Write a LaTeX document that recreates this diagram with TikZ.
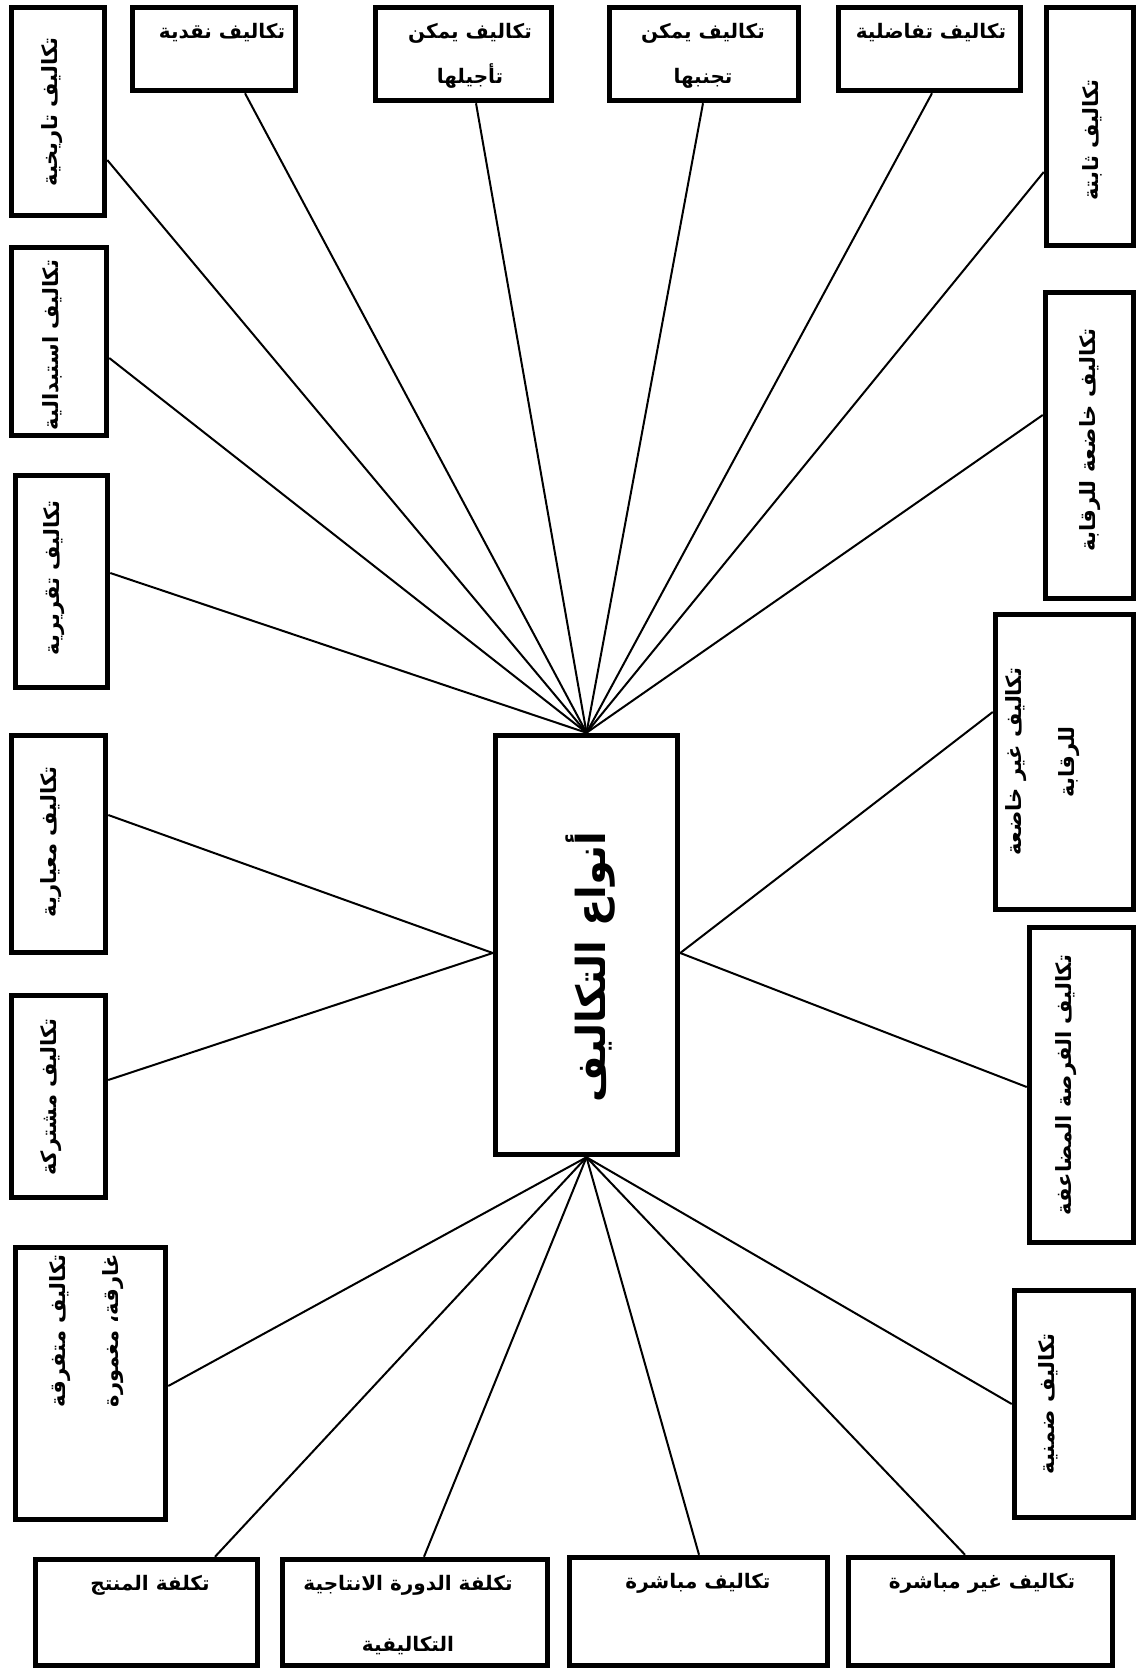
\documentclass[tikz,border=0pt]{standalone}
\usepackage{fontspec}
\usetikzlibrary{calc}
\TeXXeTstate=1
\newfontfamily\arabicfont[Script=Arabic]{DejaVu Sans}
\tikzset{
  box/.style={draw=black, line width=5.5pt, rectangle, inner sep=0pt},
  conn/.style={draw=black, line width=2pt},
  lbl/.style={font=\arabicfont\bfseries\fontsize{20}{45}\selectfont, align=center, inner sep=0pt},
  lblb/.style={lbl, font=\arabicfont\bfseries\fontsize{20}{61}\selectfont},
  vlbl/.style={lbl, rotate=90, font=\arabicfont\bfseries\fontsize{21}{45}\selectfont},
  vlblw/.style={lbl, rotate=90, font=\arabicfont\bfseries\fontsize{21}{53}\selectfont},
  title/.style={font=\arabicfont\bfseries\fontsize{40}{48}\selectfont, rotate=90, inner sep=0pt},
}
\begin{document}
\begin{tikzpicture}[x=1pt,y=-1pt]
\useasboundingbox (0,0) rectangle (1138,1670);
\fill[white] (0,0) rectangle (1138,1670);

% centre
\node[box, minimum width=182pt, minimum height=419pt] (c) at (586.5,945) {};
\node[title] (ct) at (591,967) {\beginR أنواع التكاليف\endR};

% top row
\node[box, minimum width=93pt,  minimum height=208pt] (tar)  at (58,111.5) {};
\node[box, minimum width=163pt, minimum height=83pt]  (naq)  at (214,49) {};
\node[box, minimum width=176pt, minimum height=93pt]  (taj)  at (463.5,54) {};
\node[box, minimum width=189pt, minimum height=93pt]  (tajn) at (704,54) {};
\node[box, minimum width=182pt, minimum height=83pt]  (taf)  at (929.5,49) {};
\node[box, minimum width=87pt,  minimum height=238pt] (thab) at (1090,126.5) {};

% left column
\node[box, minimum width=95pt,  minimum height=188pt] (istb) at (59,341.5) {};
\node[box, minimum width=92pt,  minimum height=212pt] (taqr) at (61.5,581.5) {};
\node[box, minimum width=94pt,  minimum height=217pt] (miy)  at (58.5,844) {};
\node[box, minimum width=94pt,  minimum height=202pt] (mush) at (58.5,1096.5) {};
\node[box, minimum width=150pt, minimum height=272pt] (mutf) at (90.5,1383.5) {};

% bottom row
\node[box, minimum width=222pt, minimum height=106pt] (muntj) at (146.5,1612.5) {};
\node[box, minimum width=265pt, minimum height=106pt] (dawra) at (415,1612.5) {};
\node[box, minimum width=258pt, minimum height=108pt] (mub)   at (698.5,1611.5) {};
\node[box, minimum width=264pt, minimum height=108pt] (ghmub) at (980.5,1611.5) {};

% right column
\node[box, minimum width=88pt,  minimum height=306pt] (khad) at (1089.5,445.5) {};
\node[box, minimum width=138pt, minimum height=295pt] (ghkh) at (1064.5,762) {};
\node[box, minimum width=104pt, minimum height=315pt] (furs) at (1081.5,1085) {};
\node[box, minimum width=119pt, minimum height=227pt] (dimn) at (1074,1404) {};

% labels
\node[vlbl] (tar-t)  at (52,112)  {\beginR تكاليف تاريخية\endR};
\node[lbl]  (naq-t)  at (222,33)  {\beginR تكاليف نقدية\endR};
\node[lbl]  (taj-t)  at (470,55.5) {\beginR تكاليف يمكن\endR\\\beginR تأجيلها\endR};
\node[lbl]  (tajn-t) at (703,55.5) {\beginR تكاليف يمكن\endR\\\beginR تجنبها\endR};
\node[lbl]  (taf-t)  at (931,33)  {\beginR تكاليف تفاضلية\endR};
\node[vlbl] (thab-t) at (1092,140) {\beginR تكاليف ثابتة\endR};

\node[vlbl] (istb-t) at (52,345)  {\beginR تكاليف استبدالية\endR};
\node[vlbl] (taqr-t) at (54,578)  {\beginR تكاليف تقريرية\endR};
\node[vlbl] (miy-t)  at (51,842)  {\beginR تكاليف معيارية\endR};
\node[vlbl] (mush-t) at (51,1097) {\beginR تكاليف مشتركة\endR};
\node[vlblw, anchor=east] (mutf-t) at (87,1254) {\beginR تكاليف متفرقة\endR\\\beginR غارقة، مغمورة\endR};

\node[lbl]  (muntj-t) at (150,1585) {\beginR تكلفة المنتج\endR};
\node[lblb] (dawra-t) at (408,1615.5) {\beginR تكلفة الدورة الانتاجية\endR\\\beginR التكاليفية\endR};
\node[lbl]  (mub-t)   at (698,1583) {\beginR تكاليف مباشرة\endR};
\node[lbl]  (ghmub-t) at (982,1583) {\beginR تكاليف غير مباشرة\endR};

\node[vlbl]  (khad-t) at (1090,440)  {\beginR تكاليف خاضعة للرقابة\endR};
\node[vlblw] (ghkh-t) at (1043,762)  {\beginR تكاليف غير خاضعة\endR\\\beginR للرقابة\endR};
\node[vlbl]  (furs-t) at (1066,1085) {\beginR تكاليف الفرصة المضاعفة\endR};
\node[vlbl]  (dimn-t) at (1048,1404) {\beginR تكاليف ضمنية\endR};

% connectors to top of centre
\draw[conn] ([yshift=-48.5pt]tar.east) -- (c.north);
\draw[conn] ([xshift=31pt]naq.south) -- (c.north);
\draw[conn] ([xshift=12.5pt]taj.south) -- (c.north);
\draw[conn] ([xshift=-1pt]tajn.south) -- (c.north);
\draw[conn] ([xshift=2.5pt]taf.south) -- (c.north);
\draw[conn] ([yshift=-45.5pt]thab.west) -- (c.north);
\draw[conn] ([yshift=-16.5pt]istb.east) -- (c.north);
\draw[conn] ([yshift=8.5pt]taqr.east) -- (c.north);
\draw[conn] ([yshift=30.5pt]khad.west) -- (c.north);
% left / right of centre
\draw[conn] ([yshift=29pt]miy.east) -- ([yshift=-8pt]c.west);
\draw[conn] ([yshift=16.5pt]mush.east) -- ([yshift=-8pt]c.west);
\draw[conn] ([yshift=50pt]ghkh.west) -- ([yshift=-8pt]c.east);
\draw[conn] ([yshift=-2pt]furs.west) -- ([yshift=-8pt]c.east);
% bottom of centre
\draw[conn] ([yshift=-2.5pt]mutf.east) -- (c.south);
\draw[conn] ([xshift=68.5pt]muntj.north) -- (c.south);
\draw[conn] ([xshift=9pt]dawra.north) -- (c.south);
\draw[conn] ([xshift=0.5pt]mub.north) -- (c.south);
\draw[conn] ([xshift=-15.5pt]ghmub.north) -- (c.south);
\draw[conn] (dimn.west) -- (c.south);
\end{tikzpicture}
\end{document}
